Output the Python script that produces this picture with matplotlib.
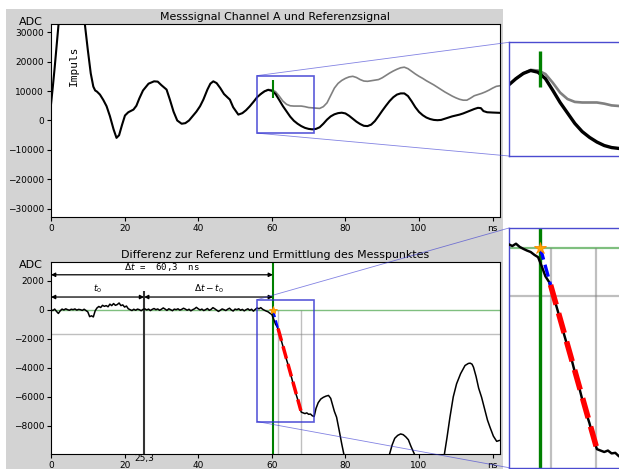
import matplotlib
matplotlib.use('Agg')
import matplotlib.pyplot as plt
from matplotlib.patches import Rectangle

# Messsignal Channel A (schwarz), ns / ADC
t_sig = [0, 0.5, 1, 1.5, 2, 2.5, 3, 5, 7, 8.5, 9.2, 10, 10.8, 11.5, 12, 12.5, 13.3, 14.2, 15.1,
         16, 17, 17.8, 18.5, 19.3, 20.1, 21, 22.4, 23.2, 24, 25, 26.5, 28, 29, 30, 31.4, 32.3,
         33.3, 34.3, 35.5, 36.5, 37.5, 38.5, 39.5, 40.5, 41.4, 42.5, 43.3, 44.1, 45, 46, 47, 48,
         48.6, 49.5, 50.9, 52, 53, 54, 55, 56, 57, 58, 59, 60, 61, 62, 63, 64, 65, 66, 67, 68,
         69, 70, 71, 72, 73, 74, 75, 76, 77, 78, 79, 80, 81, 82, 83, 84, 85, 86, 87, 88, 89, 90,
         91, 92, 93, 94, 95, 96, 97, 98, 99, 100, 101, 102, 103, 104, 105, 106, 107, 108, 109,
         110, 111, 112, 113, 114, 115, 116, 116.8, 117.5, 118.5, 120, 122]
sig = [5500, 11500, 18000, 25000, 32000, 39000, 45000, 52000, 47000, 39000, 32700, 24000, 16000,
       11500, 10200, 9800, 8800, 7000, 4850, 1500, -3000, -5900, -5000, -1500, 1700, 2800, 3700,
       5000, 7500, 10200, 12500, 13300, 13200, 12000, 10500, 7100, 3000, 0, -1100, -900, 0, 1500,
       3000, 4850, 7100, 10500, 12500, 13300, 12700, 11000, 9000, 7800, 7100, 4500, 2000, 2500,
       3500, 4800, 6300, 7900, 9000, 9900, 10400, 10100, 9000, 7000, 4900, 3100, 1300, -100,
       -1100, -1900, -2500, -2850, -3000, -2850, -2300, -1100, 300, 1400, 2100, 2500, 2650, 2400,
       1600, 600, -400, -1200, -1800, -1900, -1400, -200, 1500, 3300, 5000, 6600, 7900, 8800,
       9200, 9200, 8300, 6500, 4500, 2900, 1800, 1000, 500, 200, 100, 200, 600, 1000, 1400, 1700,
       2000, 2400, 2900, 3400, 3900, 4300, 4200, 3200, 2800, 2700, 2600]

# Referenzsignal (grau)
t_ref = [57, 58, 59, 60, 61, 62, 63, 64, 65, 66, 67, 68, 69, 70, 71, 72, 73, 74, 75, 76, 77, 78,
         79, 80, 81, 82, 83, 84, 85, 86, 87, 88, 89, 90, 91, 92, 93, 94, 95, 96, 97, 98, 99, 100,
         101, 102, 103, 104, 105, 106, 107, 108, 109, 110, 111, 112, 113, 114, 115, 116, 117,
         118, 119, 120, 121, 122]
ref = [9000, 9900, 10500, 10400, 9800, 8300, 6600, 5500, 5000, 4900, 4900, 4900, 4700, 4400,
       4300, 4200, 4100, 4700, 6000, 8500, 11000, 12600, 13600, 14300, 14800, 15000, 14600, 13900,
       13400, 13300, 13500, 13700, 13900, 14500, 15300, 16100, 16800, 17400, 17900, 18100, 17600,
       16700, 15800, 15000, 14300, 13500, 12800, 12100, 11300, 10500, 9700, 9000, 8300, 7700,
       7200, 6900, 6900, 7600, 8400, 8800, 9200, 9700, 10300, 11000, 11600, 11800]

# Differenz zur Referenz
t_diff = [0, 0.5, 1, 1.5, 2, 2.5, 3, 3.5, 4, 4.5, 5, 5.5, 6, 6.5, 7, 7.5, 8, 8.5, 9, 9.5,
          10, 10.5, 11, 11.5, 12, 12.5, 13, 13.5, 14, 14.5, 15, 15.5, 16, 16.5, 17, 17.5, 18, 18.5,
          19, 19.5, 20, 20.5, 21, 21.5, 22, 22.5, 23, 23.5, 24, 24.5, 25, 25.5, 26, 26.5, 27, 27.5,
          28, 28.5, 29, 29.5, 30, 30.5, 31, 31.5, 32, 32.5, 33, 33.5, 34, 34.5, 35, 35.5, 36, 36.5,
          37, 37.5, 38, 38.5, 39, 39.5, 40, 40.5, 41, 41.5, 42, 42.5, 43, 43.5, 44, 44.5, 45, 45.5,
          46, 46.5, 47, 47.5, 48, 48.5, 49, 49.5, 50, 50.5, 51, 51.5, 52, 52.5, 53, 53.5, 54, 54.5,
          55, 55.5, 56, 56.5, 57, 57.5, 58, 58.5, 59, 59.5, 60, 60.5, 61, 61.5, 62, 62.5, 63, 63.5,
          64, 64.5, 65, 65.5, 66, 66.5, 67, 67.5, 68, 68.5, 69, 69.5, 70, 70.5, 71, 71.5, 72, 72.6,
          73.3, 74, 74.7, 75.4, 76, 76.5, 77, 77.6, 78.3, 79, 79.7, 80.5, 82, 84, 86, 88, 90, 91,
          92, 92.7, 93.4, 94.2, 95, 95.7, 96.4, 97.1, 97.8, 98.5, 99.2, 100, 102, 104, 106, 106.9,
          107.6, 108.4, 109.3, 110.2, 111.3, 112.5, 113.4, 113.9, 114.4, 114.8, 115.5, 116.2, 117,
          117.8, 118.6, 119.3, 120.2, 121.1, 121.8]
diff = [0, -60, 40, -120, -260, -80, 40, -20, 60, 0, -40, 30, 0, 50, -30, 20, 0, -50, 30, -60,
        -150, -480, -420, -500, -80, 120, 220, 150, 300, 230, 280, 200, 380, 280, 420, 300, 350,
        460, 280, 330, 180, 250, 60, 0, -60, 30, -40, 40, 0, -70, 20, 60, -20, 40, -60, 20, 80, 0,
        50, -40, 30, 120, 40, -50, 60, 0, -70, 40, 0, 60, -30, 20, 100, 40, -40, 30, -80, 0, 60,
        160, 60, -20, 40, -60, 0, 80, -40, 20, 140, 60, -30, -120, -40, 50, 0, -60, 30, 100, -20,
        -90, 40, 0, 60, -40, 20, -80, 0, 60, -40, 30, -100, 20, 120, 60, 140, 30, -40, -100, -150,
        -250, -330, -650, -1000, -1200, -1650, -2050, -2500, -3000, -3450, -3850, -4350, -4800,
        -5300, -5750, -6150, -6650, -7050, -7100, -7150, -7100, -7200, -7180, -7300, -7350, -6800,
        -6400, -6150, -6030, -5950, -5900, -6100, -6550, -7000, -7400, -8300, -9240, -10100, -11000,
        -12500, -14000, -15000, -13500, -11500, -10500, -9930, -9300, -8850, -8650, -8550, -8600,
        -8750, -8950, -9400, -9800, -10200, -11000, -12500, -12000, -10800, -9930, -8800, -7400,
        -6000, -5100, -4400, -3840, -3700, -3680, -3750, -3960, -4600, -5400, -6030, -6800, -7600,
        -8100, -8700, -9060, -9000]

dt = 60.3          # Messpunkt
t0 = 25.3
t_fit = [61.7, 67.9]
y_fit = [-1300, -6950]
t_ext = [60.3, 61.7]
y_ext = [0, -1300]
y_level = -1700
marker_y = [7500, 13700]

zoom_t = (56.05, 71.55)
zoom_top = (-4300, 15250)
zoom_bot = (-7700, 690)

xticks = [0, 20, 40, 60, 80, 100, 120]
xticklabels = ['0', '20', '40', '60', '80', '100', 'ns']

W, H = 619, 469
fig = plt.figure(figsize=(W / 100, H / 100), dpi=100)
fig.add_artist(Rectangle((6 / W, 0), 497 / W, 460 / H, transform=fig.transFigure,
                         facecolor='lightgray', edgecolor='none', zorder=-10))

ax1 = fig.add_axes([51 / W, 252 / H, 449 / W, 193 / H])
ax2 = fig.add_axes([51 / W, 15 / H, 449 / W, 192 / H])
ins1 = fig.add_axes([509 / W, 313 / H, 114 / W, 113.7 / H])
ins2 = fig.add_axes([509 / W, 1.3 / H, 114 / W, 239.7 / H])


def draw_top(ax, k=1.0):
    ax.plot(t_ref, ref, color='gray', lw=1.2 * k)
    ax.plot(t_sig, sig, color='black', lw=1.5 * k)
    ax.vlines(dt, marker_y[0], marker_y[1], color='green', lw=1.5 * k, zorder=4)


def draw_bottom(ax, k=1.0, star=6):
    ax.axhline(0, color='green', lw=1 * k, alpha=0.5)
    ax.axhline(y_level, color='gray', lw=1 * k, alpha=0.5)
    ax.vlines(t_fit, -20000, 0, color='gray', lw=1 * k, alpha=0.5)
    ax.axvline(dt, color='green', lw=1.5 * k)
    ax.plot(t_diff, diff, color='black', lw=1.1 * k, zorder=3)
    ax.plot(t_fit, y_fit, color='red', lw=2.5 * k, ls='--', zorder=4)
    ax.plot(t_ext, y_ext, color='blue', lw=1.5 * k, ls='--', zorder=4)
    ax.plot(dt, 0, marker='*', color='orange', markeredgecolor='darkorange',
            markeredgewidth=0.6, markersize=star, zorder=5)


for ax in (ax1, ax2):
    ax.set_xlim(0, 122)
    ax.set_xticks(xticks)
    ax.set_xticklabels(xticklabels)
    ax.tick_params(labelsize=6.5, length=3, pad=2)

draw_top(ax1)
ax1.set_ylim(-32768, 32767)
ax1.set_yticks([-30000, -20000, -10000, 0, 10000, 20000, 30000])
ax1.set_title('Messsignal Channel A und Referenzsignal', fontsize=7.9, pad=3)
ax1.text(-0.046, 1.01, 'ADC', transform=ax1.transAxes, ha='center', va='center', fontsize=8)
ax1.text(6.25, 18600, 'Impuls', rotation=90, family='monospace', fontsize=8,
         ha='center', va='center')

draw_bottom(ax2)
ax2.set_ylim(-9930, 3280)
ax2.set_yticks([-8000, -6000, -4000, -2000, 0, 2000])
ax2.set_title('Differenz zur Referenz und Ermittlung des Messpunktes', fontsize=7.9, pad=3)
ax2.text(-0.046, 0.982, 'ADC', transform=ax2.transAxes, ha='center', va='center', fontsize=8)
ax2.vlines(t0, -20000, 1300, color='#333333', lw=1.5)
arrow = dict(arrowstyle='<|-|>', color='black', lw=0.9, shrinkA=0, shrinkB=0, mutation_scale=6)
ax2.annotate('', xy=(0, 2400), xytext=(dt, 2400), arrowprops=arrow)
ax2.annotate('', xy=(0, 870), xytext=(t0, 870), arrowprops=arrow)
ax2.annotate('', xy=(t0, 870), xytext=(dt, 870), arrowprops=arrow)
ax2.text(dt / 2, 2550, r'$\Delta t$ =  60,3  ns', family='monospace', fontsize=6.5,
         ha='center', va='bottom')
ax2.text(t0 / 2, 1020, r'$t_0$', fontsize=6.5, ha='center', va='bottom')
ax2.text((t0 + dt) / 2, 1020, r'$\Delta t - t_0$', fontsize=6.5, ha='center', va='bottom')
ax2.text(t0, -9930, '25,3', fontsize=6.5, ha='center', va='top')

draw_top(ins1, 1.6)
ins1.set_xlim(*zoom_t)
ins1.set_ylim(*zoom_top)
draw_bottom(ins2, 1.6, star=9)
ins2.set_xlim(*zoom_t)
ins2.set_ylim(*zoom_bot)

for ins, ax in ((ins1, ax1), (ins2, ax2)):
    ins.set_xticks([])
    ins.set_yticks([])
    for s in ins.spines.values():
        s.set_color('#4b4bd0')
        s.set_linewidth(1.0)
    ind = ax.indicate_inset_zoom(ins, edgecolor='#3030d0', alpha=0.8, linewidth=1.2)
    for c in ind.connectors:
        c.set_linewidth(0.6)
        c.set_alpha(0.6)

fig.savefig('out.png', dpi=100)
